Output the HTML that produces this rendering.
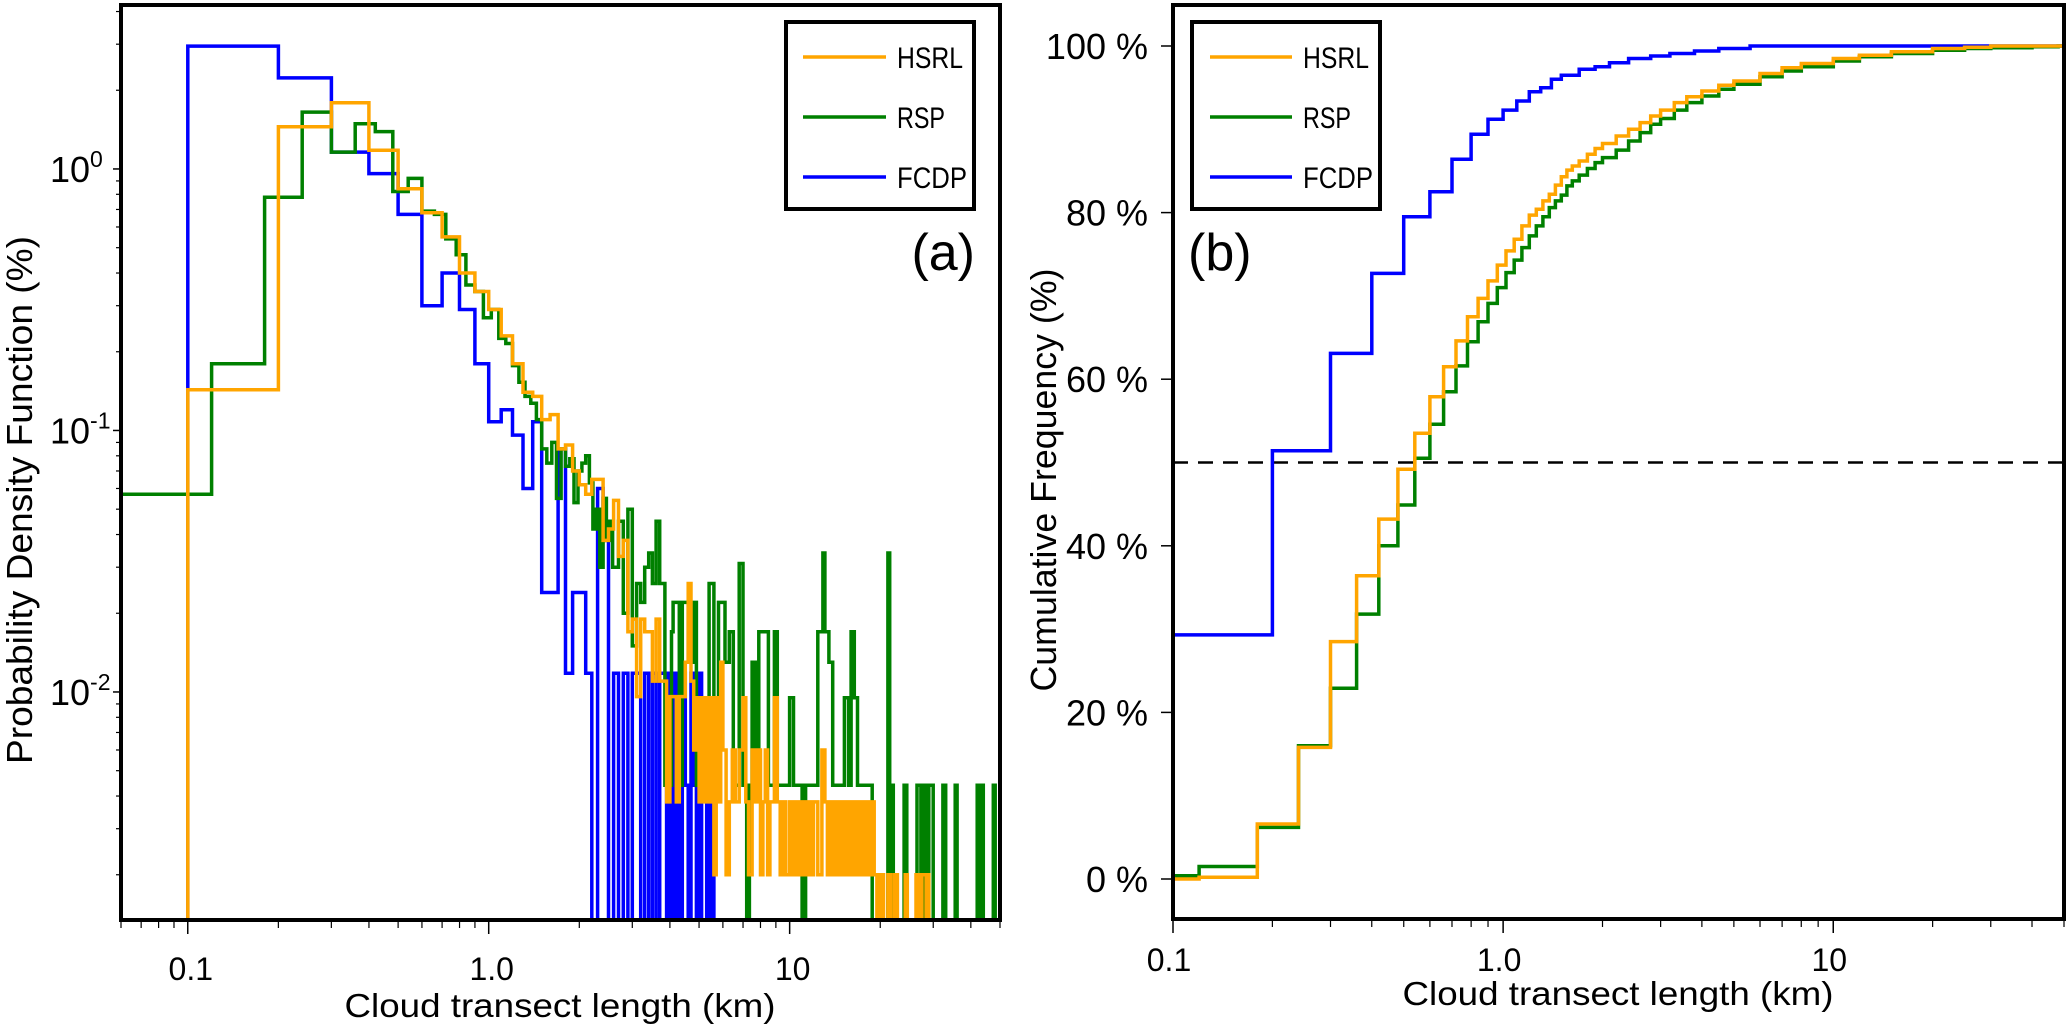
<!DOCTYPE html>
<html><head><meta charset="utf-8">
<style>
html,body{margin:0;padding:0;background:#fff;}
svg{display:block;font-family:"Liberation Sans",sans-serif;}
</style></head>
<body>
<svg id="fig" width="2067" height="1027" viewBox="0 0 2067 1027" xmlns="http://www.w3.org/2000/svg">
<defs>
<clipPath id="clipL"><rect x="121" y="5" width="879" height="915"/></clipPath>
<clipPath id="clipR"><rect x="1173" y="5" width="891" height="914"/></clipPath>
</defs>
<g id="panelA"></g>
<g id="panelB"></g>
</svg>
<script>
// ---------- Panel (a) data ----------
const fcdpPdfEdges = [0.1,0.2,0.3,0.4,0.5,0.6,0.7,0.8,0.9,1.0,1.1,1.2,1.3,1.4,1.5,1.6,1.7,1.8,1.9,2.0,2.1,2.2,2.3,2.4,2.5,2.6,2.7,2.8,2.9,3.0,3.1,3.2,3.3,3.4,3.5,3.6,3.7,3.8,3.9,4.0,4.1,4.2,4.3,4.4,4.5,4.6,4.7,4.8,4.9,5.0,5.1,5.3,5.4,5.5,5.6];
const fcdpPdfVals  = [2.95,2.23,1.16,0.96,0.67,0.30,0.40,0.29,0.18,0.108,0.12,0.096,0.06,0.108,0.024,0.024,0.085,0.0118,0.024,0.024,0.0118,0,0.06,0.038,0,0.0118,0,0.0118,0,0.0118,0.0118,0,0.0118,0,0.0118,0,0.0118,0.0118,0,0.0118,0,0.0118,0,0.0118,0.0044,0,0.0118,0.0044,0,0.0118,0,0.0044,0,0.0044,0];
const fcdpPdfEnd = 5.7;

const hsrlPdfEdges = [0.1,0.2,0.3,0.4,0.5,0.6,0.7,0.8,0.9,1.0,1.1,1.2,1.3,1.4,1.5,1.6,1.7,1.8,1.9,2.0,2.1,2.2,2.3,2.4,2.5,2.6,2.7,2.8,2.9,3.0,3.1,3.2,3.3,3.4,3.5,3.6,3.7,3.8,3.9,4.0,4.1,4.2,4.3,4.4,4.5,4.6,4.7,4.8,4.9,5.0,5.1,5.2,5.3,5.4,5.5,5.6,5.7,5.8,5.9,6.0,6.15,6.3,6.45,6.6,6.8,7.0,7.15,7.3,7.5,7.7,7.85,8.0,8.15,8.3,8.45,8.6,8.9,9.1,9.3,9.5,9.7,10.0,10.25,10.5,10.75,11,11.25,11.5,11.75,12,12.4,12.8,13.1,13.35,13.6,13.8,14,14.3,14.6,14.9,15.2,15.5,15.8,16.1,16.5,16.9,17.3,17.6,18.0,18.4,18.7,19.1,19.5,20,20.5,21.2,21.7,22.3,22.8,24.2,24.6,26.3,26.9,27.5,28.4,28.8];
const hsrlPdfVals  = [0.143,1.45,1.79,1.18,0.84,0.68,0.55,0.40,0.34,0.29,0.23,0.18,0.14,0.135,0.11,0.115,0.085,0.088,0.07,0.062,0.057,0.065,0.065,0.038,0.042,0.054,0.033,0.038,0.017,0.019,0.0096,0.019,0.017,0.017,0.011,0.019,0.011,0.011,0.0038,0.0096,0.0096,0.0038,0.0096,0.0096,0.013,0.026,0.011,0.006,0.0095,0.0038,0.0095,0.0038,0.0095,0.0038,0.0095,0.002,0.0095,0.0038,0.013,0.006,0.002,0.0038,0.006,0.0038,0.006,0.0095,0.0038,0.002,0.006,0.0038,0.006,0.002,0.0038,0.006,0.002,0.0038,0.0095,0.0038,0.002,0.0038,0.002,0.0038,0.002,0.0038,0.002,0.0038,0.002,0.0038,0.002,0.0038,0.002,0.006,0.0038,0.002,0.0038,0.002,0.0038,0.002,0.0038,0.002,0.0038,0.002,0.0038,0.002,0.0038,0.002,0.0038,0.002,0.0038,0.002,0.0038,0.002,0,0.002,0,0.002,0,0.002,0,0.002,0,0.002,0,0.002,0,0.002,0];
const hsrlPdfEnd = 29;

const rspPdfEdges = [0.06,0.12,0.18,0.24,0.30,0.36,0.42,0.48,0.54,0.60,0.66,0.72,0.78,0.84,0.90,0.96,1.02,1.08,1.14,1.20,1.26,1.32,1.38,1.44,1.50,1.56,1.62,1.68,1.74,1.80,1.86,1.92,1.98,2.04,2.10,2.16,2.22,2.28,2.34,2.40,2.46,2.52,2.58,2.7,2.8,2.9,3.0,3.1,3.2,3.3,3.4,3.5,3.6,3.7,3.85,4.05,4.1,4.3,4.4,4.6,4.8,4.9,5.0,5.2,5.4,5.6,5.8,6.1,6.3,6.5,6.8,7.0,7.2,7.35,7.5,7.7,7.9,8.5,8.9,9.1,10,10.3,11,11.3,12.4,12.9,13.1,13.5,13.9,15.2,15.7,16,16.4,16.8,18.8,21.2,21.5,21.8,22.1,24,24.5,26.5,27.3,28,28.6,29,30,32.3,33,35.5,36,42,42.5,43.5,44,47.5,48.2];
const rspPdfVals  = [0.057,0.18,0.78,1.65,1.16,1.49,1.39,0.82,0.92,0.69,0.67,0.54,0.47,0.36,0.34,0.27,0.29,0.225,0.215,0.177,0.153,0.135,0.127,0.11,0.085,0.075,0.09,0.055,0.085,0.073,0.078,0.053,0.07,0.075,0.08,0.063,0.042,0.05,0.03,0.055,0.038,0.045,0.03,0.045,0.02,0.05,0.015,0.026,0.022,0.03,0.034,0.026,0.045,0.026,0.0044,0.017,0.022,0.0044,0.022,0.013,0.022,0.0044,0.0095,0.0044,0.026,0.0095,0.022,0.013,0.017,0.0044,0.031,0.0044,0,0.0044,0.013,0.0044,0.017,0.0044,0.017,0.0044,0.0095,0.0044,0,0.0044,0.017,0.034,0.017,0.013,0.0044,0.0095,0.0044,0.017,0.0095,0.0044,0,0.034,0,0.0044,0,0.0044,0,0.0044,0,0.0044,0,0.0044,0,0.0044,0,0.0044,0,0.0044,0,0.0044,0,0.0044,0];
const rspPdfEnd = 49;

const pdfXTicks = [0.1, 1, 10];
const pdfXTickLabels = ["0.1", "1.0", "10"];
const pdfXMinor = [0.06,0.07,0.08,0.09,0.2,0.3,0.4,0.5,0.6,0.7,0.8,0.9,2,3,4,5,6,7,8,9,20,30,40,50];
const pdfYTicks = [1, 0.1, 0.01];
const pdfYTickExp = ["0", "-1", "-2"];
const pdfYMinor = [0.002,0.003,0.004,0.005,0.006,0.007,0.008,0.009,0.02,0.03,0.04,0.05,0.06,0.07,0.08,0.09,0.2,0.3,0.4,0.5,0.6,0.7,0.8,0.9,2,3,4];

// ---------- Panel (b) data ----------
const hsrlCdfEdges = [0.1,0.12,0.18,0.24,0.30,0.36,0.42,0.48,0.54,0.60,0.66,0.72,0.78,0.84,0.90,0.96,1.02,1.08,1.14,1.20,1.26,1.32,1.38,1.44,1.50,1.56,1.62,1.7,1.8,1.9,2.0,2.2,2.4,2.6,2.8,3.0,3.3,3.6,4.0,4.5,5,6,7,8,10,12,15,20,25,30];
const hsrlCdfVals  = [0,0.2,6.6,15.8,28.5,36.4,43.2,49.2,53.5,57.9,61.5,64.6,67.5,69.7,71.8,73.7,75.4,76.8,78.4,79.7,80.4,81.4,82.2,83.3,84.3,85.1,85.6,86.2,87,87.7,88.3,89.2,90,90.8,91.6,92.3,93.2,93.9,94.6,95.3,95.8,96.7,97.4,97.9,98.5,98.9,99.3,99.7,99.85,100];
const rspCdfEdges = [0.1,0.12,0.18,0.24,0.30,0.36,0.42,0.48,0.54,0.60,0.66,0.72,0.78,0.84,0.90,0.96,1.02,1.08,1.14,1.20,1.26,1.32,1.38,1.44,1.50,1.56,1.62,1.7,1.8,1.9,2.0,2.2,2.4,2.6,2.8,3.0,3.3,3.6,4,4.5,5,6,7,8,10,12,15,20,25,30,40,48];
const rspCdfVals  = [0.4,1.5,6.2,16,22.9,31.8,40,44.9,50.5,54.6,58.5,61.6,64.5,66.9,69.1,71,72.8,74.3,75.8,77.2,78.4,79.5,80.6,81.4,82.1,83.2,83.8,84.5,85.3,86,86.6,87.5,88.6,89.6,90.6,91.3,92.3,93.2,94,94.8,95.4,96.3,97.0,97.5,98.2,98.7,99.1,99.5,99.7,99.8,99.9,100];
const fcdpCdfEdges = [0.1,0.2,0.3,0.4,0.5,0.6,0.7,0.8,0.9,1.0,1.1,1.2,1.3,1.4,1.5,1.7,1.9,2.1,2.4,2.8,3.2,3.8,4.5,5.6];
const fcdpCdfVals  = [29.3,51.4,63.1,72.7,79.5,82.5,86.4,89.4,91.2,92.3,93.4,94.5,95,96,96.5,97.2,97.5,98,98.5,98.8,99.1,99.4,99.7,100];
const cdfXTicks = [0.1, 1, 10];
const cdfXTickLabels = ["0.1", "1.0", "10"];
const cdfXMinor = [0.2,0.3,0.4,0.5,0.6,0.7,0.8,0.9,2,3,4,5,6,7,8,9,20,30,40,50];
const cdfYTicks = [0, 20, 40, 60, 80, 100];
const cdfYTickLabels = ["0 %", "20 %", "40 %", "60 %", "80 %", "100 %"];
const medianLevel = 50;

const L = {x0:121, x1:1000, y0:5, y1:920, xmin:0.06, xmax:50, lmin:-2.872, lmax:0.627};
const R = {x0:1173, x1:2064, y0:5, y1:919, xmin:0.1, xmax:50, ymin:0, ymax:100, yTop:46, yZero:879};
function lx(v){ return L.x0 + (Math.log10(v)-Math.log10(L.xmin))/(Math.log10(L.xmax)-Math.log10(L.xmin))*(L.x1-L.x0); }
function ly(v){ if(v<=0) return L.y1+5; return L.y1 - (Math.log10(v)-L.lmin)/(L.lmax-L.lmin)*(L.y1-L.y0); }
function rx(v){ return R.x0 + (Math.log10(v)-Math.log10(R.xmin))/(Math.log10(R.xmax)-Math.log10(R.xmin))*(R.x1-R.x0); }
function ry(p){ return R.yZero - (p-R.ymin)/(R.ymax-R.ymin)*(R.yZero-R.yTop); }

const NS = "http://www.w3.org/2000/svg";
function mk(parent, tag, attrs){
  const e = document.createElementNS(NS, tag);
  for (const k in attrs) e.setAttribute(k, attrs[k]);
  parent.appendChild(e);
  return e;
}
const A = document.getElementById('panelA');
const B = document.getElementById('panelB');
const COL = {hsrl:'#FFA500', rsp:'#008000', fcdp:'#0000FF'};

function pdfPath(edges, vals, end){
  let d = 'M' + lx(edges[0]).toFixed(1) + ',' + (L.y1+5);
  for (let i=0;i<vals.length;i++){
    const nx = (i+1<edges.length) ? edges[i+1] : end;
    d += 'V' + ly(vals[i]).toFixed(1) + 'H' + lx(nx).toFixed(1);
  }
  d += 'V' + (L.y1+5);
  return d;
}
function cdfPath(edges, vals){
  let d = 'M' + rx(edges[0]).toFixed(1) + ',' + ry(0).toFixed(1);
  for (let i=0;i<vals.length;i++){
    const nx = (i+1<edges.length) ? edges[i+1] : R.xmax;
    d += 'V' + ry(vals[i]).toFixed(1) + 'H' + rx(nx).toFixed(1);
  }
  return d;
}

// ===== Panel A =====
const gA = mk(A,'g',{'clip-path':'url(#clipL)'});


let p;
p = mk(gA,'path',{d:pdfPath(fcdpPdfEdges,fcdpPdfVals,fcdpPdfEnd),fill:'none',stroke:COL.fcdp,'stroke-width':3.5});


p = mk(gA,'path',{d:pdfPath(rspPdfEdges,rspPdfVals,rspPdfEnd),fill:'none',stroke:COL.rsp,'stroke-width':3.5});


p = mk(gA,'path',{d:pdfPath(hsrlPdfEdges,hsrlPdfVals,hsrlPdfEnd),fill:'none',stroke:COL.hsrl,'stroke-width':3.5});



let fr = mk(A,'rect',{x:L.x0,y:L.y0,width:L.x1-L.x0,height:L.y1-L.y0,fill:'none',stroke:'#000','stroke-width':4});



pdfXTicks.forEach((v,i)=>{
  const t = mk(A,'line',{x1:lx(v),x2:lx(v),y1:L.y1,y2:L.y1+14,stroke:'#000','stroke-width':1.5});
  
  
  const tx = mk(A,'text',{x:lx(v)+3,y:980,'font-size':32,'text-anchor':'middle',fill:'#000'});
  tx.textContent = pdfXTickLabels[i];
  
  
});
pdfXMinor.forEach(v=>{
  const t = mk(A,'line',{x1:lx(v),x2:lx(v),y1:L.y1,y2:L.y1+8,stroke:'#000','stroke-width':1.2});
  
  
});
pdfYTicks.forEach((v,i)=>{
  const t = mk(A,'line',{x1:L.x0-8,x2:L.x0,y1:ly(v),y2:ly(v),stroke:'#000','stroke-width':1.5});
  
  
  const tx = mk(A,'text',{x:50,y:ly(v)+13,'font-size':36,fill:'#000'});
  
  
  const b = mk(tx,'tspan',{});
  b.textContent = '10';
  const s = mk(tx,'tspan',{dy:-15,'font-size':23});
  s.textContent = pdfYTickExp[i];
});
pdfYMinor.forEach(v=>{
  const t = mk(A,'line',{x1:L.x0-5,x2:L.x0,y1:ly(v),y2:ly(v),stroke:'#000','stroke-width':1.2});
  
  
});
let tt = mk(A,'text',{x:560,y:1017,'font-size':33,'text-anchor':'middle',textLength:431,lengthAdjust:'spacingAndGlyphs'});
tt.textContent = 'Cloud transect length (km)';


tt = mk(A,'text',{x:0,y:0,'font-size':36,'text-anchor':'middle',textLength:528,lengthAdjust:'spacingAndGlyphs',transform:'translate(32,500) rotate(-90)'});
tt.textContent = 'Probability Density Function (%)';


tt = mk(A,'text',{x:975,y:270,'font-size':52,'text-anchor':'end'});
tt.textContent = '(a)';



// ===== Panel B =====
const gB = mk(B,'g',{'clip-path':'url(#clipR)'});


let dl = mk(gB,'line',{x1:R.x0,x2:R.x1,y1:ry(medianLevel),y2:ry(medianLevel),stroke:'#000','stroke-width':2.5,'stroke-dasharray':'15,10'});


p = mk(gB,'path',{d:cdfPath(fcdpCdfEdges,fcdpCdfVals),fill:'none',stroke:COL.fcdp,'stroke-width':3.5});


p = mk(gB,'path',{d:cdfPath(rspCdfEdges,rspCdfVals),fill:'none',stroke:COL.rsp,'stroke-width':3.5});


p = mk(gB,'path',{d:cdfPath(hsrlCdfEdges,hsrlCdfVals),fill:'none',stroke:COL.hsrl,'stroke-width':3.5});



fr = mk(B,'rect',{x:R.x0,y:R.y0,width:R.x1-R.x0,height:R.y1-R.y0,fill:'none',stroke:'#000','stroke-width':4});



cdfXTicks.forEach((v,i)=>{
  const t = mk(B,'line',{x1:rx(v),x2:rx(v),y1:R.y1,y2:R.y1+14,stroke:'#000','stroke-width':1.5});
  
  
  const tx = mk(B,'text',{x:rx(v)-4,y:971,'font-size':32,'text-anchor':'middle'});
  tx.textContent = cdfXTickLabels[i];
  
  
});
cdfXMinor.forEach(v=>{
  const t = mk(B,'line',{x1:rx(v),x2:rx(v),y1:R.y1,y2:R.y1+8,stroke:'#000','stroke-width':1.2});
  
  
});
cdfYTicks.forEach((v,i)=>{
  const t = mk(B,'line',{x1:R.x0-12,x2:R.x0,y1:ry(v),y2:ry(v),stroke:'#000','stroke-width':1.5});
  
  
  const tx = mk(B,'text',{x:1148,y:ry(v)+13,'font-size':36,'text-anchor':'end'});
  tx.textContent = cdfYTickLabels[i];
  
  
});
tt = mk(B,'text',{x:1618,y:1005,'font-size':33,'text-anchor':'middle',textLength:431,lengthAdjust:'spacingAndGlyphs'});
tt.textContent = 'Cloud transect length (km)';


tt = mk(B,'text',{x:0,y:0,'font-size':36,'text-anchor':'middle',textLength:423,lengthAdjust:'spacingAndGlyphs',transform:'translate(1056,480) rotate(-90)'});
tt.textContent = 'Cumulative Frequency (%)';


tt = mk(B,'text',{x:1188,y:270,'font-size':52});
tt.textContent = '(b)';



// ===== Legends =====
const legNames = ['HSRL','RSP','FCDP'];
const legCols = [COL.hsrl, COL.rsp, COL.fcdp];
const legRowY = [57, 117, 177];
function legend(parent, bx, lineX0, lineX1, textX, nm){
  const g = mk(parent,'g',{});
  
  
  const r = mk(g,'rect',{x:bx,y:22,width:188,height:187,fill:'#fff',stroke:'#000','stroke-width':4});
  
  
  legNames.forEach((n,i)=>{
    const l = mk(g,'line',{x1:lineX0,x2:lineX1,y1:legRowY[i],y2:legRowY[i],stroke:legCols[i],'stroke-width':3.5});
    
    
    const t = mk(g,'text',{x:textX,y:legRowY[i]+11,'font-size':30,textLength:n==='RSP'?48:(n==='HSRL'?66:70),lengthAdjust:'spacingAndGlyphs'});
    t.textContent = n;
    
    
  });
}
legend(A, 786, 803, 886, 897, 'legend-panel-a');
legend(B, 1192, 1210, 1292, 1303, 'legend-panel-b');
</script>
</body></html>
